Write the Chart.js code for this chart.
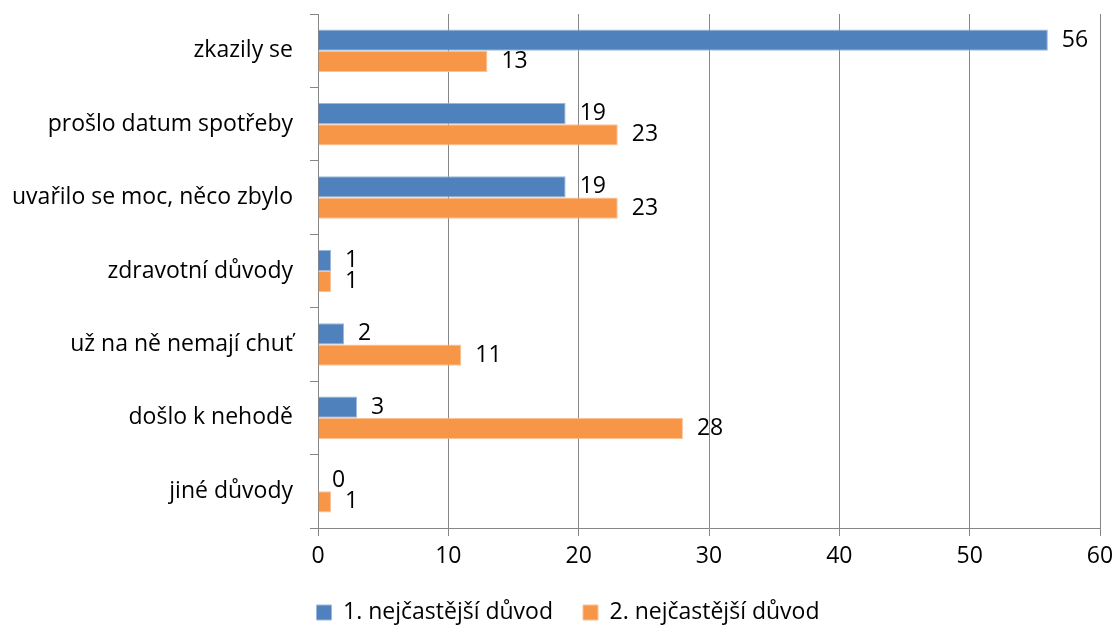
<!DOCTYPE html>
<html>
<head>
<meta charset="utf-8">
<script src="https://cdn.jsdelivr.net/npm/chart.js@4.4.1/dist/chart.umd.min.js"></script>
<style>
  html, body { margin: 0; padding: 0; background: #fff; }
  #wrap { width: 1115px; height: 628px; }
</style>
</head>
<body>
<div id="wrap"><canvas id="barChart"></canvas></div>
<script>
var categories = ['zkazily se', 'prošlo datum spotřeby', 'uvařilo se moc, něco zbylo', 'zdravotní důvody', 'už na ně nemají chuť', 'došlo k nehodě', 'jiné důvody'];
var seriesNames = ['1. nejčastější důvod', '2. nejčastější důvod'];
var firstReason = [56, 19, 19, 1, 2, 3, 0];
var secondReason = [13, 23, 23, 1, 11, 28, 1];
var xTicks = [0, 10, 20, 30, 40, 50, 60];

var fontFamily = "'Open Sans', 'Liberation Sans', sans-serif";
var fontSize = 23;

// value labels at the end of each bar
var barLabels = {
    id: 'barLabels',
    afterDatasetsDraw: function (chart) {
        var ctx = chart.ctx;
        ctx.save();
        ctx.font = fontSize + 'px ' + fontFamily;
        ctx.fillStyle = '#000';
        ctx.textAlign = 'left';
        ctx.textBaseline = 'middle';
        chart.data.datasets.forEach(function (ds, i) {
            var meta = chart.getDatasetMeta(i);
            meta.data.forEach(function (bar, j) {
                ctx.fillText(ds.data[j], bar.x + 14, bar.y);
            });
        });
        ctx.restore();
    }
};

// legend sits a bit right of the canvas centre
var legendShift = {
    id: 'legendShift',
    afterLayout: function (chart) {
        chart.legend.left += 18;
        chart.legend.right += 18;
    }
};

var ctxBar = document.getElementById('barChart').getContext('2d');
new Chart(ctxBar, {
    type: 'bar',
    data: {
        labels: categories,
        datasets: [{
            label: seriesNames[0],
            data: firstReason,
            backgroundColor: '#4F81BD',
            borderColor: '#9DB8DA',
            borderWidth: 1
        }, {
            label: seriesNames[1],
            data: secondReason,
            backgroundColor: '#F79646',
            borderColor: '#FAC29A',
            borderWidth: 1
        }]
    },
    plugins: [barLabels, legendShift],
    options: {
        indexAxis: 'y',
        responsive: true,
        maintainAspectRatio: false,
        animation: false,
        layout: { padding: { top: 14, right: 15, bottom: -6, left: 0 } },
        datasets: {
            bar: { categoryPercentage: 0.58, barPercentage: 1 }
        },
        plugins: {
            legend: {
                position: 'bottom',
                labels: {
                    font: { family: fontFamily, size: fontSize },
                    color: '#000',
                    boxWidth: 15,
                    boxHeight: 15,
                    padding: 30
                }
            },
            tooltip: { enabled: false }
        },
        scales: {
            x: {
                min: 0,
                max: 60,
                afterBuildTicks: function (axis) {
                    axis.ticks = xTicks.map(function (v) { return { value: v }; });
                },
                afterFit: function (axis) {
                    axis.height = 43;
                    axis.paddingRight = 0;
                    axis.paddingLeft = 0;
                },
                ticks: {
                    font: { family: fontFamily, size: fontSize },
                    color: '#000',
                    padding: 7
                },
                grid: { color: '#868686', lineWidth: 1, tickLength: 8 },
                border: { color: '#868686' }
            },
            y: {
                afterFit: function (axis) {
                    axis.width = 318;
                    axis.paddingTop = 0;
                    axis.paddingBottom = 0;
                },
                ticks: {
                    font: { family: fontFamily, size: fontSize },
                    color: '#000',
                    padding: 17
                },
                grid: { drawOnChartArea: false, color: '#868686', tickLength: 8, offset: true },
                border: { color: '#868686' }
            }
        }
    }
});
</script>
</body>
</html>
